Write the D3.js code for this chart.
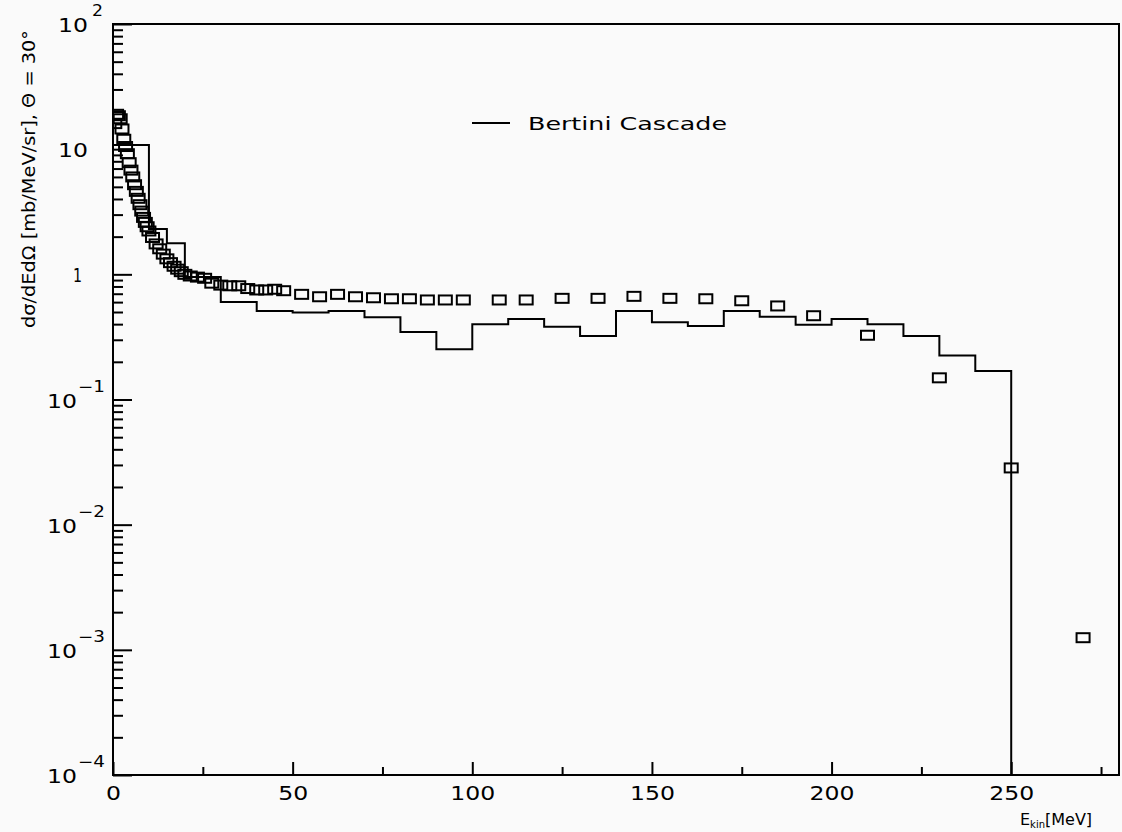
<!DOCTYPE html>
<html>
<head>
<meta charset="utf-8">
<script src="https://cdn.jsdelivr.net/npm/d3@7"></script>
<style>
  body { margin: 0; background: #fafafa; }
  text { font-family: "DejaVu Sans", sans-serif; fill: #000; }
</style>
</head>
<body>
<div id="chart"></div>
<script>
// Bertini cascade histogram: bin edges and contents
const histEdges = [0, 10, 15, 20, 30, 40, 50, 60, 70, 80, 90, 100, 110, 120, 130, 140,
                   150, 160, 170, 180, 190, 200, 210, 220, 230, 240, 250];
const histValues = [10.8, 2.3, 1.77, 0.95, 0.60, 0.51, 0.496, 0.509, 0.454, 0.346, 0.252,
                    0.399, 0.440, 0.382, 0.321, 0.509, 0.414, 0.386, 0.509, 0.458, 0.396,
                    0.440, 0.399, 0.321, 0.225, 0.169];

// measured points (open squares)
const pointEnergy = [0.5, 1, 1.5, 2, 2.5, 3, 3.5, 4, 4.5, 5, 5.5, 6, 6.5, 7, 7.5, 8, 8.5, 9, 9.5, 10,
                     11, 12, 13, 14, 15, 16, 17, 18, 19, 20, 21.5, 23.5, 25.5, 27.5, 30, 32.5, 35,
                     37.5, 40, 42.5, 45, 47.5, 52.5, 57.5, 62.5, 67.5, 72.5, 77.5, 82.5, 87.5, 92.5,
                     97.5, 107.5, 115, 125, 135, 145, 155, 165, 175, 185, 195, 210, 230, 250, 270];
const pointSigma = [16, 19, 18.5, 17.5, 14.5, 12, 10.5, 9.2, 7.8, 6.8, 6.0, 5.2, 4.6, 4.05, 3.6, 3.2,
                    2.85, 2.6, 2.4, 2.22, 1.97, 1.75, 1.6, 1.45, 1.33, 1.24, 1.16, 1.1, 1.05, 1.0,
                    0.97, 0.95, 0.93, 0.85, 0.82, 0.81, 0.81, 0.77, 0.75, 0.75, 0.76, 0.74, 0.692,
                    0.662, 0.692, 0.662, 0.65, 0.638, 0.638, 0.624, 0.624, 0.624, 0.624, 0.624,
                    0.643, 0.643, 0.667, 0.643, 0.638, 0.615, 0.559, 0.467, 0.326, 0.149, 0.0284,
                    0.00125];

// axis ticks
const xMajorTicks = [0, 50, 100, 150, 200, 250];
const xMinorTicks = [25, 75, 125, 175, 225, 275];
const yDecades = [2, 1, 0, -1, -2, -3, -4];

const width = 1122, height = 832;
const margin = {top: 24, right: 3, bottom: 57, left: 113};

const svg = d3.select("#chart")
    .append("svg")
    .attr("width", width)
    .attr("height", height);

svg.append("rect")
    .attr("width", width)
    .attr("height", height)
    .attr("fill", "#fafafa");

const x = d3.scaleLinear()
    .domain([0, 280])
    .range([margin.left, width - margin.right]);

const y = d3.scaleLog()
    .domain([1e-4, 1e2])
    .range([height - margin.bottom, margin.top]);

// clip to the frame
svg.append("clipPath")
    .attr("id", "plotClip")
    .append("rect")
    .attr("x", margin.left)
    .attr("y", margin.top)
    .attr("width", width - margin.left - margin.right)
    .attr("height", height - margin.top - margin.bottom);

// x axis: major and minor ticks pointing inward
svg.append("g")
    .attr("transform", `translate(0,${height - margin.bottom})`)
    .call(d3.axisBottom(x).tickValues(xMajorTicks).tickSize(-13).tickSizeOuter(0)
        .tickPadding(11).tickFormat(d3.format("d")))
    .call(g => g.select(".domain").remove())
    .call(g => g.selectAll("line").attr("stroke", "#000").attr("stroke-width", 2))
    .call(g => g.selectAll("text")
        .style("font-size", "20px")
        .attr("textLength", d => String(d).length * 15)
        .attr("lengthAdjust", "spacingAndGlyphs"));

svg.append("g")
    .attr("transform", `translate(0,${height - margin.bottom})`)
    .call(d3.axisBottom(x).tickValues(xMinorTicks).tickSize(-8).tickSizeOuter(0).tickFormat(""))
    .call(g => g.select(".domain").remove())
    .call(g => g.selectAll("line").attr("stroke", "#000").attr("stroke-width", 2));

// y axis: decade ticks and 2..9 minor ticks
const yMinorTicks = [];
yDecades.slice(1).forEach(e => {
    for (let m = 2; m <= 9; m++) yMinorTicks.push(m * Math.pow(10, e));
});

svg.append("g")
    .attr("transform", `translate(${margin.left},0)`)
    .call(d3.axisLeft(y).tickValues(yDecades.map(e => Math.pow(10, e))).tickSize(-19)
        .tickSizeOuter(0).tickFormat(""))
    .call(g => g.select(".domain").remove())
    .call(g => g.selectAll("line").attr("stroke", "#000").attr("stroke-width", 2));

svg.append("g")
    .attr("transform", `translate(${margin.left},0)`)
    .call(d3.axisLeft(y).tickValues(yMinorTicks).tickSize(-10).tickSizeOuter(0).tickFormat(""))
    .call(g => g.select(".domain").remove())
    .call(g => g.selectAll("line").attr("stroke", "#000").attr("stroke-width", 2));

// decade labels, written like 10 with a raised exponent
const yLabels = svg.append("g")
    .selectAll("text")
    .data(yDecades)
    .enter()
    .append("g")
    .attr("transform", d => `translate(0,${y(Math.pow(10, d))})`);

yLabels.append("text")
    .attr("x", d => d === 0 ? 73 : (d > 0 ? 58 : 47))
    .attr("y", 8)
    .style("font-size", "20px")
    .attr("textLength", d => d === 0 ? 9 : 30)
    .attr("lengthAdjust", "spacingAndGlyphs")
    .text(d => d === 0 ? "1" : "10");

yLabels.filter(d => d > 1 || d < 0)
    .append("text")
    .attr("x", d => d > 0 ? 92 : 78)
    .attr("y", -8)
    .style("font-size", "15px")
    .attr("textLength", d => d > 0 ? 11 : 27)
    .attr("lengthAdjust", "spacingAndGlyphs")
    .text(d => d > 0 ? String(d) : "\u2212" + (-d));

// frame
svg.append("rect")
    .attr("x", margin.left)
    .attr("y", margin.top)
    .attr("width", width - margin.left - margin.right)
    .attr("height", height - margin.top - margin.bottom)
    .attr("fill", "none")
    .attr("stroke", "#000")
    .attr("stroke-width", 2);

// histogram as a step line, dropping to the floor after the last bin
const histPoints = histValues.map((v, i) => [histEdges[i], v]);
histPoints.push([histEdges[histEdges.length - 1], histValues[histValues.length - 1]]);
histPoints.push([histEdges[histEdges.length - 1], y.domain()[0]]);

const stepLine = d3.line()
    .x(d => x(d[0]))
    .y(d => y(d[1]))
    .curve(d3.curveStepAfter);

svg.append("path")
    .datum(histPoints)
    .attr("clip-path", "url(#plotClip)")
    .attr("fill", "none")
    .attr("stroke", "#000")
    .attr("stroke-width", 2)
    .attr("d", stepLine);

// open squares
const boxW = 13, boxH = 9;
svg.append("g")
    .attr("clip-path", "url(#plotClip)")
    .selectAll("rect")
    .data(pointEnergy.map((e, i) => ({e: e, s: pointSigma[i]})))
    .enter()
    .append("rect")
        .attr("x", d => x(d.e) - boxW / 2)
        .attr("y", d => y(d.s) - boxH / 2)
        .attr("width", boxW)
        .attr("height", boxH)
        .attr("fill", "none")
        .attr("stroke", "#000")
        .attr("stroke-width", 2);

// legend
svg.append("line")
    .attr("x1", 472).attr("x2", 510)
    .attr("y1", 123).attr("y2", 123)
    .attr("stroke", "#000")
    .attr("stroke-width", 2);

svg.append("text")
    .attr("x", 528)
    .attr("y", 130)
    .style("font-size", "18px")
    .attr("textLength", 199)
    .attr("lengthAdjust", "spacingAndGlyphs")
    .text("Bertini Cascade");

// axis titles
svg.append("text")
    .attr("transform", "translate(35,179) rotate(-90)")
    .attr("text-anchor", "middle")
    .style("font-size", "17px")
    .attr("textLength", 298)
    .attr("lengthAdjust", "spacingAndGlyphs")
    .text("d\u03c3/dEd\u03a9 [mb/MeV/sr], \u0398 = 30\u00b0");

const xTitle = svg.append("text")
    .attr("x", 1020)
    .attr("y", 825)
    .style("font-size", "16px");
xTitle.append("tspan").text("E");
xTitle.append("tspan").attr("dy", 3).style("font-size", "10px").text("kin");
xTitle.append("tspan").attr("dy", -3).text("[MeV]");
</script>
</body>
</html>
